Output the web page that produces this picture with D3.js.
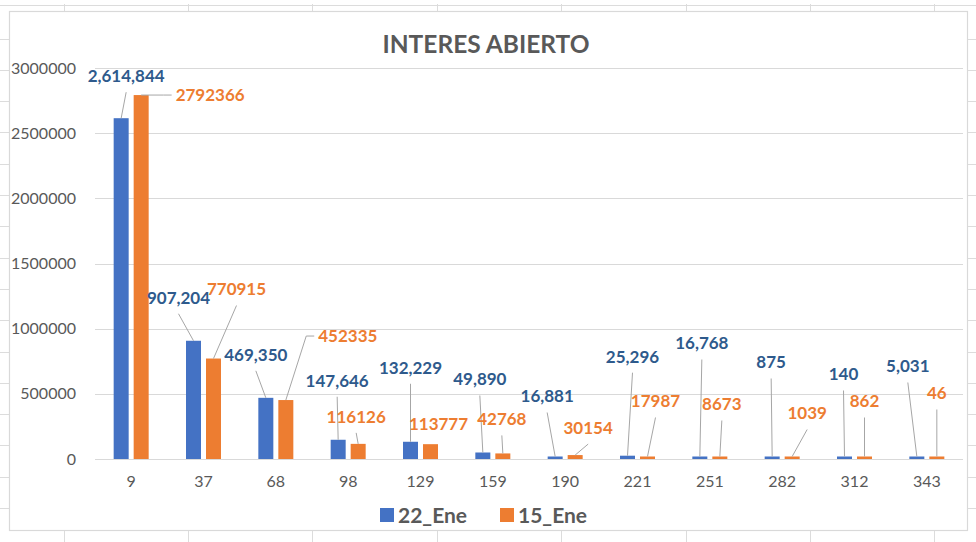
<!DOCTYPE html>
<html>
<head>
<meta charset="utf-8">
<script src="https://cdn.jsdelivr.net/npm/d3@7"></script>
<style>
  html, body { margin: 0; padding: 0; background: #fff; }
  svg { display: block; font-family: Lato, "Open Sans", sans-serif; }
</style>
</head>
<body>
<svg id="chart" width="976" height="542"></svg>
<script>
// Excel-style clustered column chart: "INTERES ABIERTO"

// -------- Data --------
const categories = ['9', '37', '68', '98', '129', '159', '190', '221', '251', '282', '312', '343'];
const ene22 = [2614844, 907204, 469350, 147646, 132229, 49890, 16881, 25296, 16768, 875, 140, 5031];
const ene15 = [2792366, 770915, 452335, 116126, 113777, 42768, 30154, 17987, 8673, 1039, 862, 46];
const seriesNames = ['22_Ene', '15_Ene'];
const yTicks = [0, 500000, 1000000, 1500000, 2000000, 2500000, 3000000];

// manually placed data labels (px offset from bar top), like Excel's dragged labels
const labelOff22 = [[5,-42],[-15,-43],[-10,-43],[-1,-59],[0,-74],[-3,-73],[-8,-60],[5,-99],[2,-113],[-1,-94],[-1,-82],[-9,-90]];
const labelOff15 = [[69,0,'side'],[23,-69],[62,-64,'side'],[-2,-27],[8,-20],[-1,-34],[13,-27],[8,-55],[2,-52],[15,-43],[0,-55],[0,-63]];

const COLORS = { '22_Ene': '#4472C4', '15_Ene': '#ED7D31' };
const LABEL_COLORS = { '22_Ene': '#2E5A8C', '15_Ene': '#ED7D31' };
const GRID = '#d9d9d9';
const TEXT = '#595959';

const svg = d3.select('#chart');
const W = 976, H = 542;

// -------- spreadsheet cells peeking out behind the chart --------
const sheet = svg.append('g').attr('stroke', '#dcdcdc').attr('stroke-width', 1);
const colX = d3.range(8).map(i => 63.5 + i * 124.4);
const rowY = d3.range(16).map(i => 38.5 + i * 31.3);
sheet.append('line').attr('x1', 0).attr('x2', W).attr('y1', 5.5).attr('y2', 5.5);
sheet.selectAll('.ct').data(colX).join('line')
  .attr('x1', d => Math.round(d) + 0.5).attr('x2', d => Math.round(d) + 0.5).attr('y1', 4).attr('y2', 11);
sheet.selectAll('.cb').data(colX).join('line')
  .attr('x1', d => Math.round(d) + 0.5).attr('x2', d => Math.round(d) + 0.5).attr('y1', 531).attr('y2', H);
sheet.selectAll('.rl').data(rowY).join('line')
  .attr('x1', 0).attr('x2', 10).attr('y1', d => Math.round(d) + 0.5).attr('y2', d => Math.round(d) + 0.5);
sheet.selectAll('.rr').data(rowY).join('line')
  .attr('x1', 968).attr('x2', W).attr('y1', d => Math.round(d) + 0.5).attr('y2', d => Math.round(d) + 0.5);

// chart box
svg.append('rect')
  .attr('x', 9.5).attr('y', 11.5).attr('width', 958).attr('height', 519)
  .attr('fill', '#fff').attr('stroke', GRID).attr('stroke-width', 1.2);

// -------- Scales --------
const plot = { l: 95, r: 963, t: 68, b: 459 };
const x = d3.scaleBand().domain(categories).range([plot.l, plot.r]).paddingInner(0).paddingOuter(0);
const xs = d3.scaleBand().domain(seriesNames)
  .range([x.bandwidth() / 2 - 17.5, x.bandwidth() / 2 + 17.5]).paddingInner(0.25);
const y = d3.scaleLinear().domain([0, 3000000]).range([plot.b, plot.t]);

// gridlines
svg.append('g').selectAll('line').data(yTicks).join('line')
  .attr('x1', plot.l).attr('x2', plot.r)
  .attr('y1', d => Math.round(y(d)) + 0.5).attr('y2', d => Math.round(y(d)) + 0.5)
  .attr('stroke', GRID).attr('stroke-width', 1);

// y axis labels
const yAxis = svg.append('g').attr('transform', `translate(${plot.l},0)`)
  .call(d3.axisLeft(y).tickValues(yTicks).tickSize(0).tickPadding(19).tickFormat(d3.format('d')));
yAxis.select('.domain').remove();
yAxis.selectAll('text').attr('fill', TEXT).style('font-size', '16px').style('font-family', 'Lato, sans-serif');

// x axis labels
const xAxis = svg.append('g').attr('transform', `translate(0,${plot.b})`)
  .call(d3.axisBottom(x).tickSize(0).tickPadding(17));
xAxis.select('.domain').remove();
xAxis.selectAll('text').attr('fill', TEXT).style('font-size', '16px').style('font-family', 'Lato, sans-serif');

// -------- Bars --------
const rows = categories.map((c, i) => ({ c, i, vals: [
  { s: '22_Ene', v: ene22[i], off: labelOff22[i] },
  { s: '15_Ene', v: ene15[i], off: labelOff15[i] }
]}));
const flat = rows.flatMap(r => r.vals.map(d => ({ ...d, c: r.c })));
flat.forEach(d => {
  d.h = Math.max(plot.b - y(d.v), 2.5);
  d.bx = x(d.c) + xs(d.s) + xs.bandwidth() / 2;
  d.by = plot.b - d.h;
});

svg.append('g').selectAll('rect').data(flat).join('rect')
  .attr('x', d => x(d.c) + xs(d.s))
  .attr('y', d => d.by)
  .attr('width', xs.bandwidth())
  .attr('height', d => d.h)
  .attr('fill', d => COLORS[d.s]);

// axis baseline
svg.append('line').attr('x1', plot.l).attr('x2', plot.r)
  .attr('y1', plot.b + 0.5).attr('y2', plot.b + 0.5).attr('stroke', GRID);

// -------- Data labels + leader lines --------
const fmtBlue = d3.format(',');
const labels = svg.append('g');
flat.forEach(d => {
  const lx = d.bx + d.off[0], ly = d.by + d.off[1];
  const t = labels.append('text')
    .attr('x', lx).attr('y', ly).attr('dy', '0.35em')
    .attr('text-anchor', 'middle')
    .attr('fill', LABEL_COLORS[d.s])
    .style('font-size', '17px').style('font-weight', 700)
    .text(d.s === '22_Ene' ? fmtBlue(d.v) : String(d.v));
  const tw = t.node().getComputedTextLength();
  let pts;
  if (d.off[2] === 'side') {
    const x0 = lx - tw / 2 - 4;
    pts = [[x0, ly], [x0 - 8, ly], [d.bx, d.by]];
  } else {
    const y0 = ly + 16;
    if (d.by - y0 < 6) return;
    pts = [[lx, y0], [d.bx, d.by]];
  }
  labels.append('path')
    .attr('d', d3.line()(pts))
    .attr('fill', 'none').attr('stroke', '#a6a6a6').attr('stroke-width', 1);
});

// -------- Title --------
svg.append('text')
  .attr('x', 486).attr('y', 53).attr('text-anchor', 'middle')
  .attr('fill', TEXT).style('font-size', '24.5px').style('font-weight', 700)
  .text('INTERES ABIERTO');

// -------- Legend --------
const legend = svg.append('g').attr('transform', 'translate(380,508)');
const li = legend.selectAll('g').data(seriesNames).join('g')
  .attr('transform', (d, i) => `translate(${i * 120},0)`);
li.append('rect').attr('width', 14).attr('height', 14).attr('fill', d => COLORS[d]);
li.append('text').attr('x', 18).attr('y', 7).attr('dy', '0.36em')
  .attr('fill', TEXT).style('font-size', '21px').style('font-weight', 700)
  .text(d => d);
</script>
</body>
</html>
